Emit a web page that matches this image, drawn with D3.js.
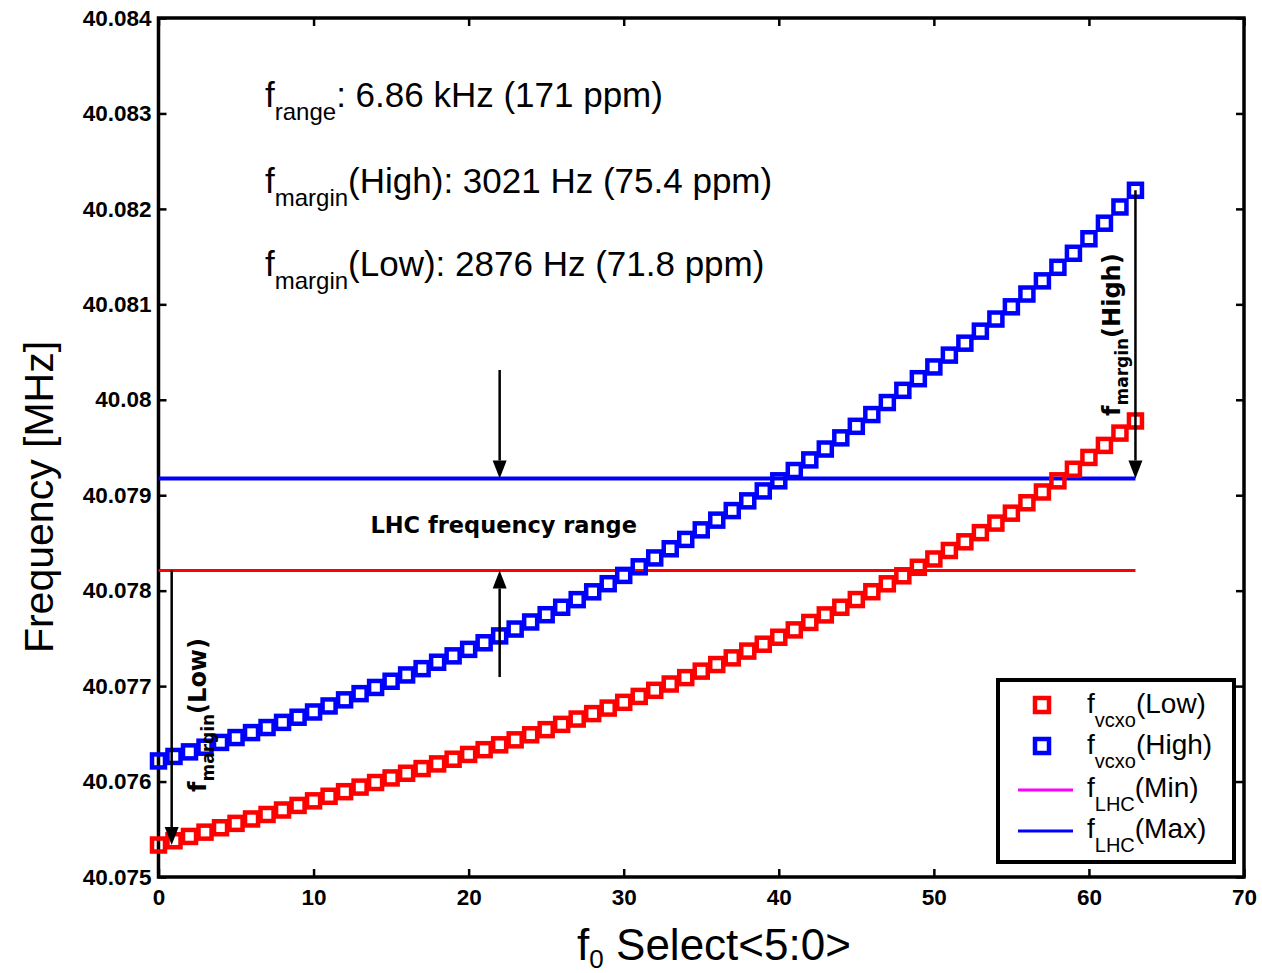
<!DOCTYPE html>
<meta charset="utf-8">
<style>
body { margin: 0; background: white; }
text { font-family: "Liberation Sans", Arial, sans-serif; fill: black; }
.tick line { stroke: black; stroke-width: 2.5px; }
.tick text { font-size: 22.5px; font-weight: bold; }
.bold text, text.bold { font-family: "DejaVu Sans", sans-serif; font-weight: bold; }
</style>
<script src="https://cdn.jsdelivr.net/npm/d3@7/dist/d3.min.js"></script>
<body>
<script>
// f0 Select code is the array index (0..63)
const fLow = [
  40.075335, 40.075380, 40.075425, 40.075470, 40.075516, 40.075562, 40.075608, 40.075655,
  40.075702, 40.075750, 40.075798, 40.075846, 40.075894, 40.075942, 40.075990, 40.076038,
  40.076087, 40.076136, 40.076185, 40.076234, 40.076284, 40.076334, 40.076385, 40.076437,
  40.076490, 40.076544, 40.076599, 40.076655, 40.076712, 40.076770, 40.076830, 40.076892,
  40.076956, 40.077022, 40.077089, 40.077157, 40.077226, 40.077296, 40.077367, 40.077439,
  40.077512, 40.077589, 40.077667, 40.077746, 40.077826, 40.077907, 40.077989, 40.078072,
  40.078156, 40.078245, 40.078332, 40.078421, 40.078512, 40.078608, 40.078708, 40.078812,
  40.078921, 40.079034, 40.079151, 40.079272, 40.079396, 40.079522, 40.079651, 40.079778
];
const fHigh = [
  40.076216, 40.076263, 40.076311, 40.076360, 40.076410, 40.076461, 40.076513, 40.076566,
  40.076620, 40.076674, 40.076729, 40.076792, 40.076856, 40.076921, 40.076986, 40.077051,
  40.077117, 40.077183, 40.077250, 40.077317, 40.077385, 40.077454, 40.077526, 40.077598,
  40.077672, 40.077748, 40.077826, 40.077906, 40.077988, 40.078073, 40.078160, 40.078250,
  40.078343, 40.078439, 40.078537, 40.078637, 40.078739, 40.078839, 40.078941, 40.079045,
  40.079151, 40.079259, 40.079370, 40.079484, 40.079601, 40.079722, 40.079845, 40.079971,
  40.080099, 40.080221, 40.080344, 40.080468, 40.080593, 40.080719, 40.080846, 40.080974,
  40.081108, 40.081246, 40.081388, 40.081535, 40.081687, 40.081850, 40.082020, 40.082195
];
const lhcMin = 40.078211;
const lhcMax = 40.079174;
const lhcSpan = [0, 63];

const xTicks = [0, 10, 20, 30, 40, 50, 60, 70];
const yTicks = [40.075, 40.076, 40.077, 40.078, 40.079, 40.08, 40.081, 40.082, 40.083, 40.084];
const yTickLabels = ["40.075", "40.076", "40.077", "40.078", "40.079", "40.08", "40.081", "40.082", "40.083", "40.084"];

const notes = [
  {sub: "range", text: ": 6.86 kHz (171 ppm)"},
  {sub: "margin", text: "(High): 3021 Hz (75.4 ppm)"},
  {sub: "margin", text: "(Low): 2876 Hz (71.8 ppm)"}
];
const legendItems = [
  {sub: "vcxo", text: "(Low)", kind: "marker", color: "#ff0000"},
  {sub: "vcxo", text: "(High)", kind: "marker", color: "#0000ff"},
  {sub: "LHC", text: "(Min)", kind: "line", color: "#ff00ff"},
  {sub: "LHC", text: "(Max)", kind: "line", color: "#0000ff"}
];

const W = 1262, H = 973;
const margin = {top: 18, left: 158.5, right: 18, bottom: 96};
const width = 1244 - margin.left;
const height = 877 - margin.top;

const svg = d3.select('body').append('svg')
  .attr('width', W).attr('height', H);

const g = svg.append('g')
  .attr('transform', `translate(${margin.left},${margin.top})`);

const x = d3.scaleLinear().domain([0, 70]).range([0, width]);
const y = d3.scaleLinear().domain([40.075, 40.084]).range([height, 0]);

// axes, ticks inward like matlab
g.append('g')
  .attr('transform', `translate(0,${height})`)
  .call(d3.axisBottom(x).tickValues(xTicks).tickSizeInner(-8).tickSizeOuter(0).tickPadding(12).tickFormat(d3.format('d')))
  .call(s => s.select('.domain').remove());
g.append('g')
  .call(d3.axisLeft(y).tickValues(yTicks).tickSizeInner(-8).tickSizeOuter(0).tickPadding(7)
    .tickFormat((d, i) => yTickLabels[i]))
  .call(s => s.select('.domain').remove());
g.append('g')
  .call(d3.axisTop(x).tickValues(xTicks).tickSizeInner(-8).tickSizeOuter(0).tickFormat(''))
  .call(s => s.select('.domain').remove());
g.append('g')
  .attr('transform', `translate(${width},0)`)
  .call(d3.axisRight(y).tickValues(yTicks).tickSizeInner(-8).tickSizeOuter(0).tickFormat(''))
  .call(s => s.select('.domain').remove());

g.append('rect')
  .attr('width', width).attr('height', height)
  .attr('fill', 'none').attr('stroke', 'black').attr('stroke-width', 3.5);

// LHC limit lines
g.append('line')
  .attr('x1', x(lhcSpan[0])).attr('x2', x(lhcSpan[1]))
  .attr('y1', y(lhcMax)).attr('y2', y(lhcMax))
  .attr('stroke', '#0000ff').attr('stroke-width', 4);
g.append('line')
  .attr('x1', x(lhcSpan[0])).attr('x2', x(lhcSpan[1]))
  .attr('y1', y(lhcMin)).attr('y2', y(lhcMin))
  .attr('stroke', '#ff0000').attr('stroke-width', 3);

const sq = 13;
function drawSeries(vals, color) {
  g.append('g').selectAll('rect')
    .data(vals)
    .enter().append('rect')
      .attr('x', (d, i) => x(i) - sq / 2)
      .attr('y', d => y(d) - sq / 2)
      .attr('width', sq).attr('height', sq)
      .attr('fill', 'none')
      .attr('stroke', color)
      .attr('stroke-width', 4.5);
}
drawSeries(fLow, '#ff0000');
drawSeries(fHigh, '#0000ff');

// arrows
function arrow(x0, v0, v1) {
  const px = x(x0), y0 = y(v0), y1 = y(v1);
  const dir = y1 > y0 ? 1 : -1;
  const hl = 18, hw = 7;
  g.append('line')
    .attr('x1', px).attr('x2', px)
    .attr('y1', y0).attr('y2', y1 - dir * hl)
    .attr('stroke', 'black').attr('stroke-width', 2.5);
  g.append('path')
    .attr('d', `M${px},${y1} L${px - hw},${y1 - dir * hl} L${px + hw},${y1 - dir * hl} Z`)
    .attr('fill', 'black');
}
arrow(22, 40.080312, lhcMax);
arrow(22, 40.077095, lhcMin);
arrow(0.85, lhcMin, fLow[0]);
arrow(63, fHigh[63], lhcMax);

// text with a subscript
function subText(parent, px, py, base, sub, rest, size, subSize, off, cls) {
  const t = parent.append('text')
    .attr('x', px).attr('y', py)
    .style('font-size', size + 'px');
  if (cls) t.attr('class', cls);
  t.append('tspan').text(base);
  t.append('tspan').attr('dy', off).style('font-size', subSize + 'px').text(sub);
  t.append('tspan').attr('dy', -off).text(rest);
  return t;
}

const noteY = [107, 193, 276];
notes.forEach((n, i) => subText(svg, 265, noteY[i], 'f', n.sub, n.text, 35, 24, 13));

svg.append('text')
  .attr('class', 'bold')
  .attr('x', x(22) + margin.left + 4).attr('y', 533)
  .attr('text-anchor', 'middle')
  .style('font-size', '22.5px')
  .text('LHC frequency range');

subText(svg, 0, 0, 'f', 'margin', '(Low)', 24, 17, 8, 'bold')
  .attr('transform', 'translate(206,792) rotate(-90)');
subText(svg, 0, 0, 'f', 'margin', '(High)', 24, 17, 8, 'bold')
  .attr('transform', 'translate(1120,416) rotate(-90)');

// legend
const lg = svg.append('g');
lg.append('rect')
  .attr('x', 998).attr('y', 680).attr('width', 236).attr('height', 182)
  .attr('fill', 'white').attr('stroke', 'black').attr('stroke-width', 4);
const rowY = [713, 754, 797, 838];
legendItems.forEach((it, i) => {
  if (it.kind === 'marker') {
    lg.append('rect')
      .attr('x', 1042 - 7).attr('y', rowY[i] - 8 - 7)
      .attr('width', 14).attr('height', 14)
      .attr('fill', 'none').attr('stroke', it.color).attr('stroke-width', 4.5);
  } else {
    lg.append('line')
      .attr('x1', 1018).attr('x2', 1073)
      .attr('y1', rowY[i] - 7).attr('y2', rowY[i] - 7)
      .attr('stroke', it.color).attr('stroke-width', 3);
  }
  subText(lg, 1087, rowY[i], 'f', it.sub, it.text, 28, 20, 14);
});

// axis titles
svg.append('text')
  .attr('transform', 'translate(53,497) rotate(-90)')
  .attr('text-anchor', 'middle')
  .style('font-size', '41px')
  .text('Frequency [MHz]');

const xl = svg.append('text')
  .attr('x', 714).attr('y', 960)
  .attr('text-anchor', 'middle')
  .style('font-size', '44px');
xl.append('tspan').text('f');
xl.append('tspan').attr('dy', 8).style('font-size', '26px').text('0');
xl.append('tspan').attr('dy', -8).text(' Select<5:0>');
</script>
</body>
</html>
